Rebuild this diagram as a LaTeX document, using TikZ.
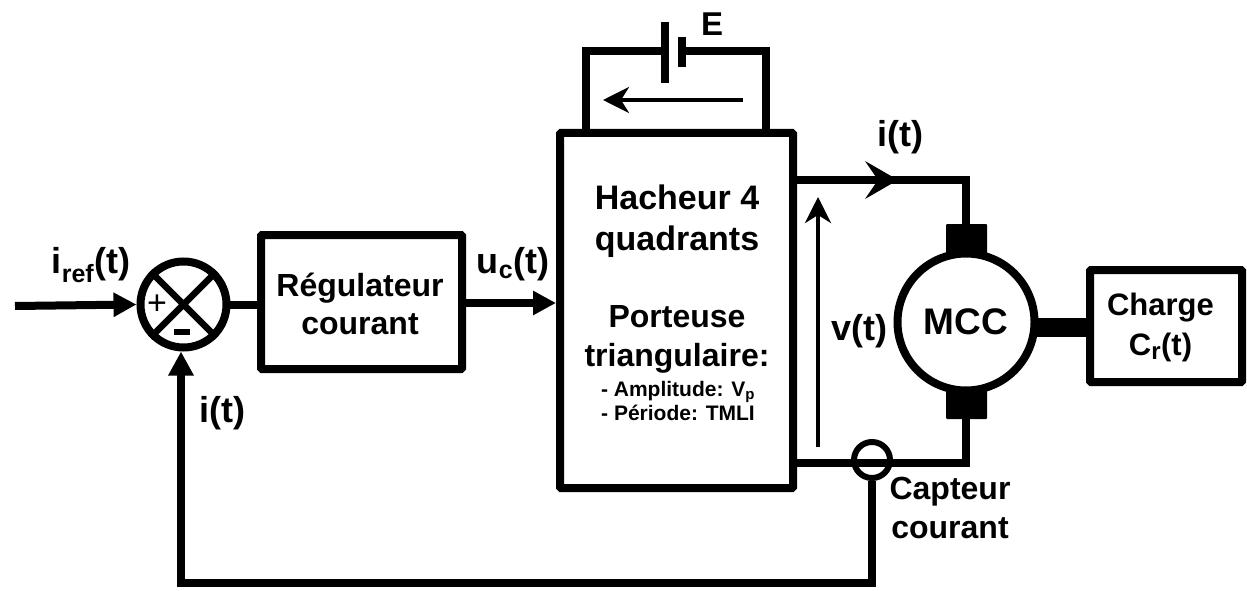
\documentclass[tikz,border=0pt]{standalone}
\usepackage{fontspec}
\setmainfont{Liberation Sans}
\usetikzlibrary{arrows.meta,positioning,calc,decorations.markings}
\tikzset{
  x=1pt,y=-1pt,
  block/.style={draw=black,line width=8pt,fill=white,rounded corners=1pt,inner sep=0pt,align=center,font=\fontsize{32}{38.5}\selectfont\bfseries},
  lab/.style={inner sep=0pt,font=\fontsize{36}{39}\selectfont\bfseries,align=center},
  wire/.style={line width=8pt,line join=miter},
  sig/.style={line width=8pt,-{Triangle[length=23pt,width=23pt]}},
  thinarrow/.style={line width=4pt,-{Stealth[length=26pt,width=26pt,inset=8pt]}},
  brush/.style={fill=black,rounded corners=1pt,inner sep=0pt,minimum width=41pt},
}
\begin{document}
\begin{tikzpicture}
\useasboundingbox (0,0) rectangle (1247,591);
% blocks
\node[block,minimum width=201pt,minimum height=134pt] (reg) at (361.5,302) {};
\node[block,minimum width=233pt,minimum height=355pt] (hach) at (676.5,310.5) {};
\node[block,minimum width=152pt,minimum height=112pt] (charge) at (1166,326) {};
\node[lab,font=\fontsize{32}{38.5}\selectfont\bfseries] (regt) at (360,304) {Régulateur\\courant};
\node[lab,font=\fontsize{31}{40}\selectfont\bfseries] (charget) at (1160.5,327) {Charge\\C\textsubscript{\fontsize{24}{24}\selectfont r}(t)};
% summer
\node[circle,draw=black,line width=8pt,minimum size=86pt,inner sep=0pt,fill=white] (sum) at (183.5,304.5) {};
\draw[line width=6.5pt] (sum.45) -- (sum.225) (sum.135) -- (sum.315);
\node[inner sep=0pt,font=\fontsize{34}{34}\selectfont] (plus) at (157,305) {+};
\node[fill=black,minimum width=16pt,minimum height=6pt,inner sep=0pt] (minus) at (182,332) {};
% motor
\node[brush,minimum height=30pt] (bt) at (966.5,239) {};
\node[brush,minimum height=30pt] (bb) at (966.5,404) {};
\node[circle,draw=black,line width=8pt,minimum size=137pt,inner sep=0pt,fill=white,font=\fontsize{37}{37}\selectfont\bfseries] (mcc) at (966,322) {MCC};
\draw[line width=19pt,shorten <=-6pt] (mcc.east |- 0,327) -- (charge.west |- 0,327);
% sensor
\node[circle,draw=black,line width=6pt,minimum size=36pt,inner sep=0pt] (cap) at (872,460) {};
% battery
\coordinate (bl) at (586,51); \coordinate (br) at (766,51);
\coordinate (p1) at (665,51); \coordinate (p2) at (682,51);
\draw[wire] (bl |- hach.north) -- (bl) -- (p1);
\draw[wire] (br |- hach.north) -- (br) -- (p2);
\draw[line width=8pt] (665,22) -- (665,83);
\draw[line width=8pt] (682,37) -- (682,67);
\coordinate (ea) at (743,100); \coordinate (eb) at (603,100);
\draw[thinarrow] (ea) -- (eb);
% signals
\coordinate (in) at (15,306);
\draw[sig] (in) -- (sum.west);
\draw[wire,shorten <=-3pt] (sum.east) -- (reg.west |- sum.east);
\draw[sig] (reg.east |- 0,303) -- (hach.west |- 0,303);
% power wires
\coordinate (tc) at (966,180); \coordinate (bc) at (966,463);
\coordinate (mid) at (898,180);
\draw[wire] (hach.east |- tc) -- (tc) -- (bt.north -| tc);
\fill[black] (mid) -- ++(-33,-19) -- ++(13,19) -- ++(-13,19) -- cycle;
\draw[wire] (bb.south -| bc) -- (bc) -- (hach.east |- bc);
% v arrow
\coordinate (va) at (818,447); \coordinate (vb) at (818,197);
\draw[thinarrow] (va) -- (vb);
% feedback
\coordinate (fb1) at (872,583); \coordinate (fb2) at (181,583);
\draw[line width=8pt,-{Triangle[length=24pt,width=24pt]}] (cap.south) -- (fb1) -- (fb2) -- (fb2 |- sum.south);
% labels
\node[lab] (iref) at (91,265) {i\textsubscript{\fontsize{25}{25}\selectfont ref}(t)};
\node[lab] (uc) at (513,264) {u\textsubscript{\fontsize{25}{25}\selectfont c}(t)};
\node[lab] (it1) at (900,137) {i(t)};
\node[lab] (it2) at (222,413) {i(t)};
\node[lab] (vt) at (859,331) {v(t)};
\node[lab,font=\fontsize{33}{33}\selectfont\bfseries] (e) at (712,24) {E};
\node[lab,font=\fontsize{32}{39}\selectfont\bfseries] (capt) at (950,508) {Capteur\\courant};
\node[lab,font=\fontsize{34}{40.5}\selectfont\bfseries] (h1) at (677,221) {Hacheur 4\\quadrants};
\node[lab,font=\fontsize{32}{39}\selectfont\bfseries] (h2) at (677,339) {Porteuse\\triangulaire:};
\node[lab,font=\fontsize{21}{24}\selectfont\bfseries] (h3) at (678,401) {- Amplitude: V\textsubscript{\fontsize{15}{15}\selectfont p}\\- Période: TMLI};
\end{tikzpicture}
\end{document}
